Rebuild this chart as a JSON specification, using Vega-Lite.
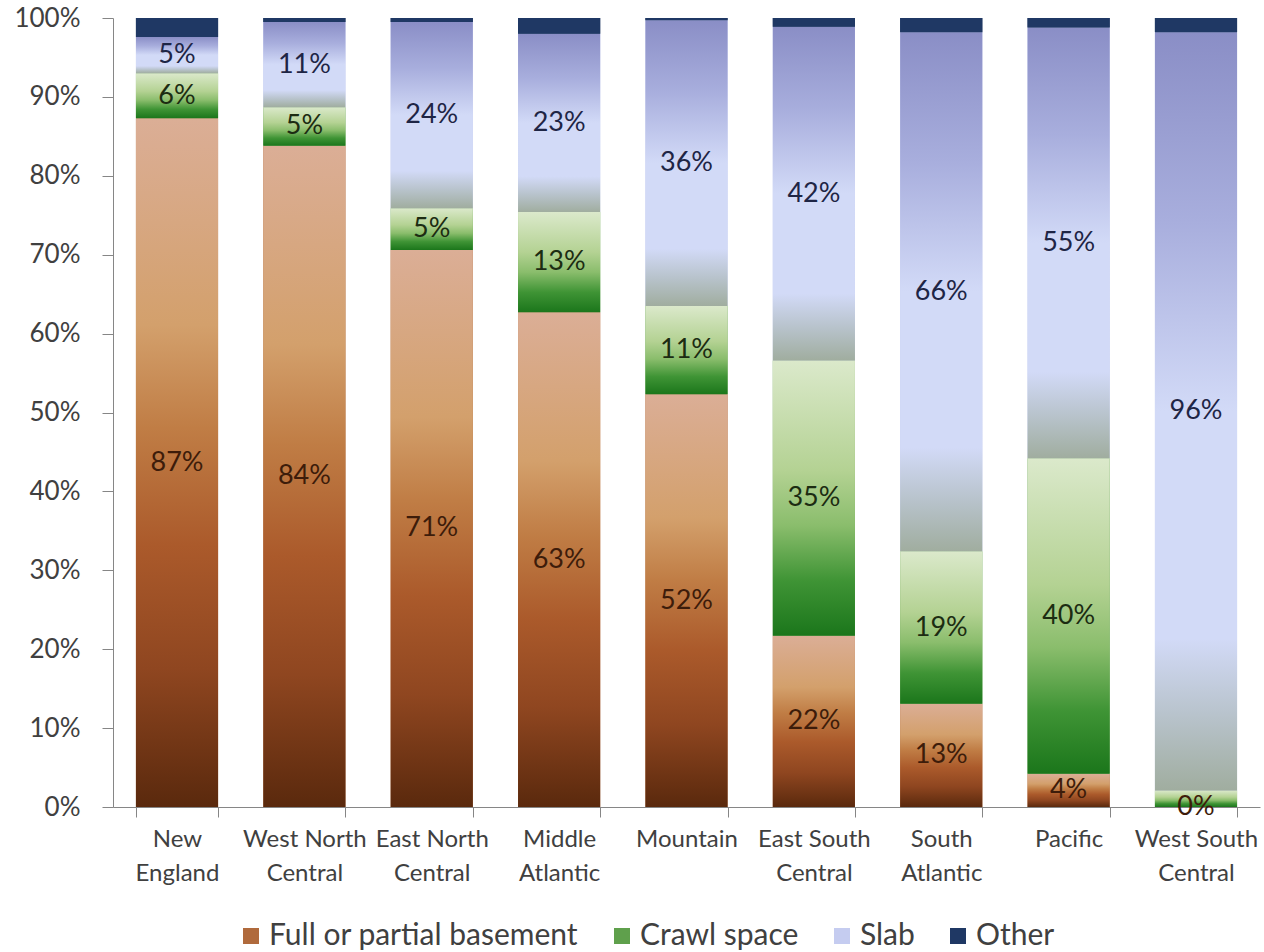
{
  "$schema": "https://vega.github.io/schema/vega-lite/v6.json",
  "autosize": {"type": "none"},
  "padding": {"left": 113, "top": 18, "right": 4, "bottom": 145},
  "width": 1147,
  "height": 789,
  "background": "white",
  "config": {"view": {"stroke": null}, "font": "Lato"},
  "data": {
    "values": [
      {"region": "New England", "type": "Full or partial basement", "value": 0.873},
      {"region": "New England", "type": "Crawl space", "value": 0.057},
      {"region": "New England", "type": "Slab", "value": 0.046},
      {"region": "New England", "type": "Other", "value": 0.024},
      {"region": "West North Central", "type": "Full or partial basement", "value": 0.838},
      {"region": "West North Central", "type": "Crawl space", "value": 0.049},
      {"region": "West North Central", "type": "Slab", "value": 0.108},
      {"region": "West North Central", "type": "Other", "value": 0.005},
      {"region": "East North Central", "type": "Full or partial basement", "value": 0.706},
      {"region": "East North Central", "type": "Crawl space", "value": 0.053},
      {"region": "East North Central", "type": "Slab", "value": 0.236},
      {"region": "East North Central", "type": "Other", "value": 0.005},
      {"region": "Middle Atlantic", "type": "Full or partial basement", "value": 0.627},
      {"region": "Middle Atlantic", "type": "Crawl space", "value": 0.127},
      {"region": "Middle Atlantic", "type": "Slab", "value": 0.226},
      {"region": "Middle Atlantic", "type": "Other", "value": 0.02},
      {"region": "Mountain", "type": "Full or partial basement", "value": 0.523},
      {"region": "Mountain", "type": "Crawl space", "value": 0.112},
      {"region": "Mountain", "type": "Slab", "value": 0.362},
      {"region": "Mountain", "type": "Other", "value": 0.003},
      {"region": "East South Central", "type": "Full or partial basement", "value": 0.217},
      {"region": "East South Central", "type": "Crawl space", "value": 0.349},
      {"region": "East South Central", "type": "Slab", "value": 0.423},
      {"region": "East South Central", "type": "Other", "value": 0.011},
      {"region": "South Atlantic", "type": "Full or partial basement", "value": 0.131},
      {"region": "South Atlantic", "type": "Crawl space", "value": 0.193},
      {"region": "South Atlantic", "type": "Slab", "value": 0.658},
      {"region": "South Atlantic", "type": "Other", "value": 0.018},
      {"region": "Pacific", "type": "Full or partial basement", "value": 0.042},
      {"region": "Pacific", "type": "Crawl space", "value": 0.4},
      {"region": "Pacific", "type": "Slab", "value": 0.546},
      {"region": "Pacific", "type": "Other", "value": 0.012},
      {"region": "West South Central", "type": "Full or partial basement", "value": 0},
      {"region": "West South Central", "type": "Crawl space", "value": 0.021},
      {"region": "West South Central", "type": "Slab", "value": 0.961},
      {"region": "West South Central", "type": "Other", "value": 0.018}
    ]
  },
  "transform": [{"stack": "value", "groupby": ["region"], "as": ["y0", "y1"]}],
  "encoding": {
    "x": {
      "field": "region",
      "type": "nominal",
      "sort": null,
      "scale": {"paddingInner": 0.355, "paddingOuter": 0.18},
      "axis": {
        "title": null,
        "labelAngle": 0,
        "labelFontSize": 24,
        "labelLineHeight": 34,
        "labelPadding": 10,
        "labelColor": "#404040",
        "labelOverlap": false,
        "labelLimit": 400,
        "domainColor": "#868686",
        "tickColor": "#868686",
        "tickSize": 10,
        "tickBand": "extent",
        "labelExpr": "lastindexof(datum.label, ' ') > 0 ? [substring(datum.label, 0, lastindexof(datum.label, ' ')), substring(datum.label, lastindexof(datum.label, ' ') + 1)] : datum.label"
      }
    }
  },
  "layer": [
    {
      "mark": {"type": "bar"},
      "encoding": {
        "y": {
          "field": "y0", "type": "quantitative", "title": null,
          "scale": {"domain": [0, 1]},
          "axis": {"values": [0, 0.1, 0.2, 0.3, 0.4, 0.5, 0.6, 0.7, 0.8, 0.9, 1], "format": ".0%", "grid": false, "labelFontSize": 26, "labelColor": "#404040", "labelPadding": 22, "tickSize": 11, "tickColor": "#868686", "domainColor": "#868686", "labelFlush": false, "labelOverlap": false}
        },
        "y2": {"field": "y1"},
        "color": {
          "field": "type",
          "type": "nominal",
          "sort": ["Full or partial basement", "Crawl space", "Slab", "Other"],
          "scale": {"domain": ["Full or partial basement", "Crawl space", "Slab", "Other"], "range": ["#b06a3c", "#5fa04c", "#c5ccf0", "#1f3864"]},
          "legend": {
            "title": null,
            "orient": "none",
            "legendX": 123,
            "legendY": 903,
            "direction": "horizontal",
            "symbolType": "square",
            "symbolSize": 256,
            "symbolStrokeWidth": 0,
            "labelFontSize": 30,
            "labelColor": "#404040",
            "labelOffset": 3,
            "columnPadding": 28,
            "labelLimit": 500
          }
        }
      }
    },
    {
      "mark": {"type": "bar"},
      "encoding": {
        "y": {
          "field": "y0", "type": "quantitative", "title": null,
          "scale": {"domain": [0, 1]},
          "axis": {"values": [0, 0.1, 0.2, 0.3, 0.4, 0.5, 0.6, 0.7, 0.8, 0.9, 1], "format": ".0%", "grid": false, "labelFontSize": 26, "labelColor": "#404040", "labelPadding": 22, "tickSize": 11, "tickColor": "#868686", "domainColor": "#868686", "labelFlush": false, "labelOverlap": false}
        },
        "y2": {"field": "y1"},
        "color": {
          "condition": [
            {"test": "datum.type === 'Full or partial basement'", "value": {"gradient": "linear", "x1": 0, "y1": 0, "x2": 0, "y2": 1, "stops": [{"offset": 0, "color": "#dbae96"}, {"offset": 0.3, "color": "#d3a06c"}, {"offset": 0.45, "color": "#c07d45"}, {"offset": 0.62, "color": "#ab5a2b"}, {"offset": 0.8, "color": "#8f4620"}, {"offset": 1, "color": "#5a290d"}]}},
            {"test": "datum.type === 'Crawl space'", "value": {"gradient": "linear", "x1": 0, "y1": 0, "x2": 0, "y2": 1, "stops": [{"offset": 0, "color": "#dbe9cb"}, {"offset": 0.4, "color": "#b4d293"}, {"offset": 0.6, "color": "#8abd6c"}, {"offset": 0.8, "color": "#3f9435"}, {"offset": 1, "color": "#1b761b"}]}},
            {"test": "datum.type === 'Slab'", "value": {"gradient": "linear", "x1": 0, "y1": 0, "x2": 0, "y2": 1, "stops": [{"offset": 0, "color": "#8a8ec6"}, {"offset": 0.25, "color": "#a8aedd"}, {"offset": 0.5, "color": "#d2daf7"}, {"offset": 0.8, "color": "#d2daf7"}, {"offset": 0.9, "color": "#b8c3cc"}, {"offset": 1, "color": "#a0ad9f"}]}}
          ],
          "value": "#1f3864"
        }
      }
    },
    {
      "transform": [
        {"filter": "datum.type !== 'Other' && !(datum.region === 'West South Central' && datum.type === 'Crawl space')"},
        {"calculate": "(datum.y0 + datum.y1) / 2", "as": "ymid"}
      ],
      "mark": {"type": "text", "fontSize": 27, "baseline": "middle", "align": "center"},
      "encoding": {
        "y": {
          "field": "ymid", "type": "quantitative", "title": null,
          "scale": {"domain": [0, 1]},
          "axis": {"values": [0, 0.1, 0.2, 0.3, 0.4, 0.5, 0.6, 0.7, 0.8, 0.9, 1], "format": ".0%", "grid": false, "labelFontSize": 26, "labelColor": "#404040", "labelPadding": 22, "tickSize": 11, "tickColor": "#868686", "domainColor": "#868686", "labelFlush": false, "labelOverlap": false}
        },
        "text": {"field": "value", "type": "quantitative", "format": ".0%"},
        "color": {
          "condition": [
            {"test": "datum.type === 'Full or partial basement'", "value": "#3d1c0a"},
            {"test": "datum.type === 'Crawl space'", "value": "#1c2c12"}
          ],
          "value": "#1e2545"
        }
      }
    }
  ]
}
